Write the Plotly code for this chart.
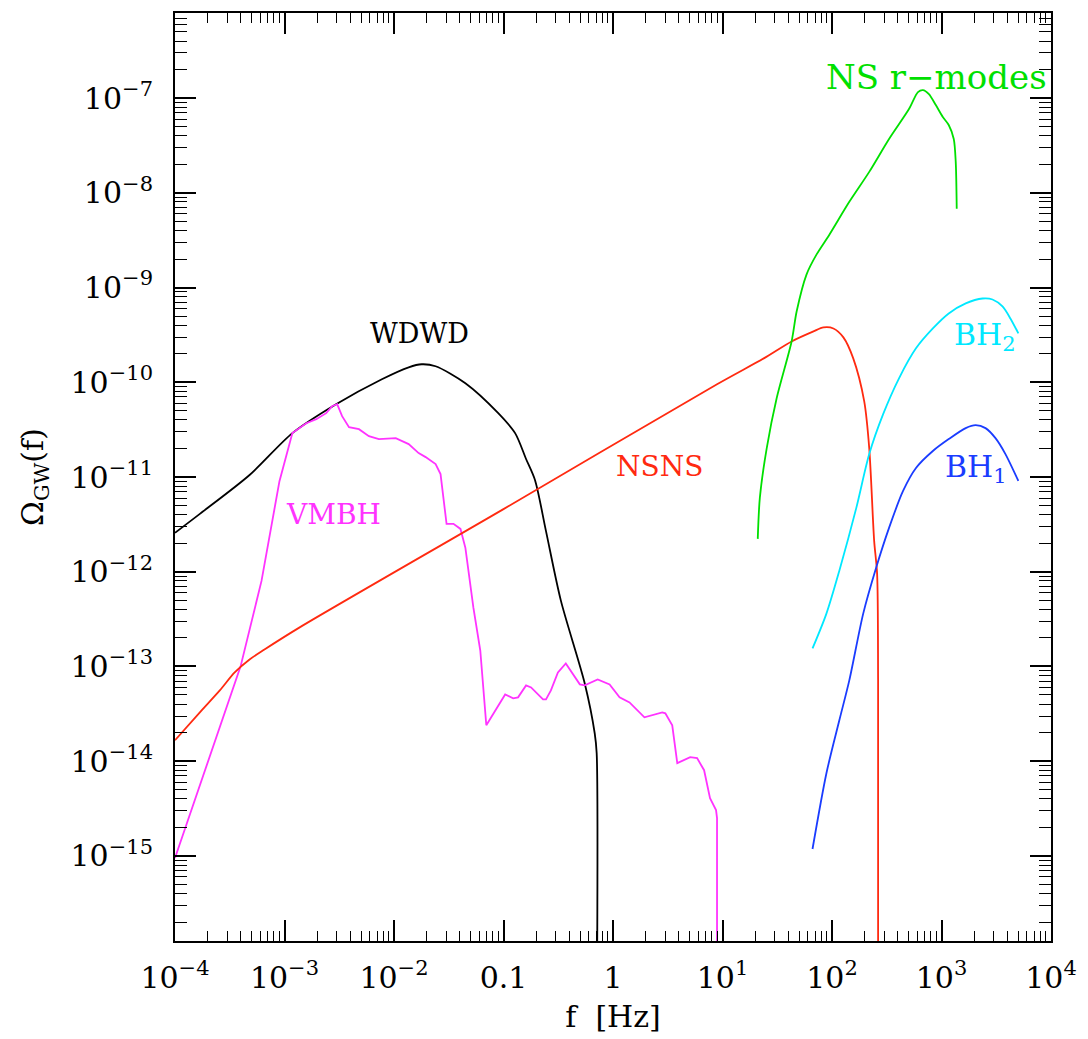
import plotly.graph_objects as go

# ---- data (log10 f [Hz], log10 Omega_GW) ----
wdwd_logf = [-4.000, -3.773, -3.319, -2.928, -2.529, -2.111, -1.866, -1.747, -1.620,
             -1.348, -1.048, -0.894, -0.794, -0.712, -0.612, -0.476, -0.258, -0.167, -0.149, -0.149]
wdwd_logo = [-11.589, -11.389, -10.979, -10.537, -10.232, -9.968, -9.842, -9.810, -9.831,
             -10.010, -10.326, -10.537, -10.810, -11.034, -11.571, -12.305, -13.179, -13.705, -13.916, -17.0]

vmbh_logf = [-4.000, -3.401, -3.210, -3.046, -2.928, -2.801, -2.710, -2.619, -2.565,
             -2.519, -2.474, -2.411, -2.320, -2.229, -2.138, -1.984, -1.866, -1.775, -1.711,
             -1.620, -1.575, -1.548, -1.520, -1.457, -1.393, -1.348, -1.275, -1.212, -1.157,
             -0.985, -0.912, -0.867, -0.794, -0.748, -0.639, -0.612, -0.567, -0.503, -0.431,
             -0.303, -0.258, -0.140, -0.031, 0.060, 0.151, 0.287, 0.450, 0.478, 0.541,
             0.587, 0.705, 0.768, 0.832, 0.886, 0.941, 0.950, 0.950]
vmbh_logo = [-15.021, -12.999, -12.097, -11.044, -10.537, -10.432, -10.390, -10.326, -10.253,
             -10.232, -10.358, -10.474, -10.495, -10.569, -10.600, -10.590, -10.653, -10.748, -10.790,
             -10.864, -10.969, -11.253, -11.495, -11.495, -11.548, -11.748, -12.379, -12.832, -13.621,
             -13.295, -13.337, -13.326, -13.200, -13.221, -13.347, -13.347, -13.253, -13.063, -12.968,
             -13.189, -13.200, -13.137, -13.189, -13.326, -13.379, -13.537, -13.484, -13.495, -13.621,
             -14.021, -13.958, -13.968, -14.095, -14.390, -14.516, -14.600, -17.0]

nsns_logf = [-4.000, -3.773, -3.591, -3.455, -3.319, -3.183, -2.865, -1.000, 0.950, 1.377, 1.631,
             1.831, 1.922, 2.013, 2.104, 2.194, 2.294, 2.340, 2.385, 2.412, 2.421, 2.421]
nsns_logo = [-13.779, -13.484, -13.253, -13.063, -12.926, -12.821, -12.590, -11.339, -10.021, -9.748, -9.569,
             -9.463, -9.421, -9.432, -9.526, -9.748, -10.200, -10.695, -11.674, -12.021, -13.147, -17.0]

rmode_logf = [1.322, 1.341, 1.404, 1.495, 1.631, 1.677, 1.767, 1.858, 1.976, 2.158, 2.340,
              2.521, 2.703, 2.785, 2.830, 2.885, 2.948, 3.012, 3.066, 3.112, 3.130, 3.139]
rmode_logo = [-11.653, -11.221, -10.695, -10.166, -9.569, -9.253, -8.863, -8.653, -8.442, -8.095, -7.779,
              -7.432, -7.116, -6.937, -6.916, -6.958, -7.074, -7.200, -7.284, -7.432, -7.674, -8.169]

bh2_logf = [1.822, 1.949, 2.067, 2.222, 2.340, 2.467, 2.612, 2.767, 2.921, 3.066, 3.221,
            3.375, 3.466, 3.557, 3.629, 3.702]
bh2_logo = [-12.810, -12.442, -11.989, -11.326, -10.758, -10.337, -9.958, -9.642, -9.432, -9.274, -9.168,
            -9.116, -9.126, -9.200, -9.326, -9.484]

bh1_logf = [1.822, 1.949, 2.067, 2.158, 2.285, 2.403, 2.521, 2.649, 2.767, 2.921, 3.066,
            3.221, 3.312, 3.402, 3.493, 3.584, 3.702]
bh1_logo = [-14.927, -14.127, -13.568, -13.147, -12.442, -11.958, -11.537, -11.147, -10.905, -10.726, -10.600,
            -10.484, -10.453, -10.484, -10.590, -10.758, -11.042]

x_tick_exp = [-4, -3, -2, -1, 0, 1, 2, 3, 4]
x_tick_text = ["10<sup>\u22124</sup>", "10<sup>\u22123</sup>", "10<sup>\u22122</sup>", "0.1", "1",
               "10<sup>1</sup>", "10<sup>2</sup>", "10<sup>3</sup>", "10<sup>4</sup>"]
y_tick_exp = [-15, -14, -13, -12, -11, -10, -9, -8, -7]
y_tick_text = ["10<sup>\u2212%d</sup>" % (-e) for e in y_tick_exp]

# series styles: name, x, y, colour, line shape
series = [
    ("WDWD", wdwd_logf, wdwd_logo, "#000000", "spline"),
    ("VMBH", vmbh_logf, vmbh_logo, "#ff33ff", "linear"),
    ("NSNS", nsns_logf, nsns_logo, "#ff2a10", "spline"),
    ("NS r-modes", rmode_logf, rmode_logo, "#00e000", "spline"),
    ("BH2", bh2_logf, bh2_logo, "#00e8ff", "spline"),
    ("BH1", bh1_logf, bh1_logo, "#1a3cff", "spline"),
]

# label text, (log10 f, log10 Omega), colour, size
labels = [
    ("NS r\u2212modes", 2.957, -6.779, "#00e000", 34),
    ("WDWD", -1.766, -9.484, "#000000", 27),
    ("NSNS", 0.423, -10.884, "#ff2a10", 28),
    ("VMBH", -2.556, -11.400, "#ff33ff", 28),
    ("BH<sub>2</sub>", 3.400, -9.516, "#00e8ff", 30),
    ("BH<sub>1</sub>", 3.315, -10.905, "#1a3cff", 30),
]

FONT = "DejaVu Serif"

fig = go.Figure()
for name, lf, lo, col, shape in series:
    line = dict(color=col, width=1.8, shape=shape)
    if shape == "spline":
        line["smoothing"] = 0.8
    fig.add_trace(go.Scatter(
        x=[10 ** v for v in lf], y=[10 ** v for v in lo], mode="lines", name=name,
        line=line, showlegend=False))

for txt, lx, ly, col, sz in labels:
    fig.add_annotation(x=lx, y=ly, xref="x", yref="y", text=txt, showarrow=False,
                       font=dict(family=FONT, size=sz, color=col))

def minor_vals(lo, hi):
    out = []
    for e in range(lo, hi + 1):
        for k in range(2, 10):
            out.append(k * 10.0 ** e)
    return out

axis_common = dict(
    type="log", showline=True, linecolor="black", linewidth=2, mirror="allticks",
    ticks="inside", ticklen=21, tickwidth=1.6, tickcolor="black",
    showgrid=False, zeroline=False,
    tickfont=dict(family=FONT, size=30, color="black"),
)

fig.update_xaxes(
    range=[-4, 4], tickmode="array",
    tickvals=[10.0 ** e for e in x_tick_exp], ticktext=x_tick_text,
    minor=dict(ticks="inside", ticklen=10, tickwidth=1.4, tickcolor="black",
               tickmode="array", tickvals=minor_vals(-5, 4), showgrid=False),
    title=dict(text="f  [Hz]", font=dict(family=FONT, size=30, color="black"), standoff=12),
    ticklabelstandoff=9,
    **axis_common)

fig.update_yaxes(
    range=[-15.898, -6.102], tickmode="array",
    tickvals=[10.0 ** e for e in y_tick_exp], ticktext=y_tick_text,
    minor=dict(ticks="inside", ticklen=12, tickwidth=1.4, tickcolor="black",
               tickmode="array", tickvals=minor_vals(-17, -6), showgrid=False),
    title=dict(text="\u03a9<sub>GW</sub>(f)", font=dict(family=FONT, size=30, color="black"), standoff=18),
    ticklabelstandoff=14,
    **axis_common)

fig.update_layout(
    width=1088, height=1039,
    margin=dict(l=175, r=32, t=11, b=97),
    paper_bgcolor="white", plot_bgcolor="white",
)

fig.write_html("out.html")
